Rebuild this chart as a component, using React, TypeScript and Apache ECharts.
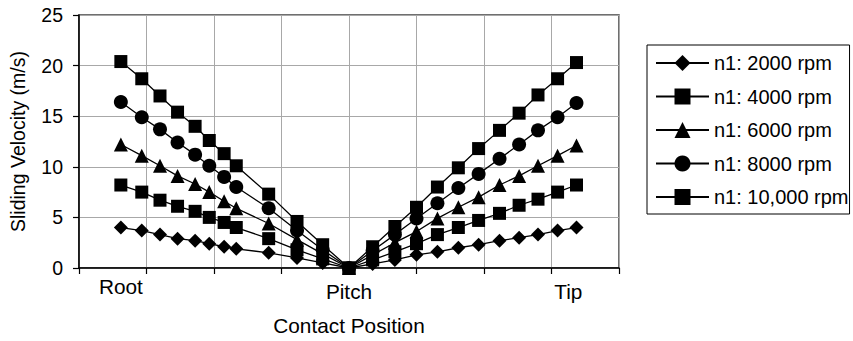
import React, { useEffect, useRef } from "react";
import * as echarts from "echarts";

const positions = [0.62, 0.93, 1.2, 1.46, 1.72, 1.93, 2.15, 2.33, 2.81, 3.23, 3.61, 4.0, 4.35, 4.68, 5.0, 5.31, 5.62, 5.92, 6.23, 6.52, 6.8, 7.09, 7.37];
const v2000 = [4.0, 3.7, 3.3, 2.9, 2.7, 2.4, 2.1, 1.9, 1.5, 1.0, 0.5, 0, 0.4, 0.8, 1.3, 1.6, 2.0, 2.3, 2.7, 3.0, 3.3, 3.7, 4.0];
const v4000 = [8.2, 7.5, 6.7, 6.1, 5.6, 5.0, 4.5, 4.0, 2.9, 1.8, 0.9, 0, 0.8, 1.6, 2.4, 3.3, 4.0, 4.7, 5.4, 6.2, 6.8, 7.5, 8.2];
const v6000 = [12.2, 11.1, 10.1, 9.1, 8.3, 7.5, 6.6, 5.9, 4.4, 2.8, 1.4, 0, 1.3, 2.5, 3.6, 4.9, 6.0, 7.0, 8.2, 9.1, 10.1, 11.1, 12.1];
const v8000 = [16.4, 14.9, 13.7, 12.4, 11.2, 10.1, 9.0, 8.0, 5.9, 3.7, 1.8, 0, 1.7, 3.3, 4.9, 6.4, 7.9, 9.3, 10.8, 12.2, 13.6, 14.9, 16.3];
const v10000 = [20.4, 18.7, 17.0, 15.4, 14.0, 12.6, 11.3, 10.1, 7.3, 4.6, 2.3, 0, 2.1, 4.1, 6.0, 8.0, 9.9, 11.8, 13.6, 15.3, 17.1, 18.7, 20.3];

const seriesNames = ["n1: 2000 rpm", "n1: 4000 rpm", "n1: 6000 rpm", "n1: 8000 rpm", "n1: 10,000 rpm"];
const seriesSymbols = ["diamond", "rect", "triangle", "circle", "rect"];
const seriesSizes = [14, 13, 14, 14, 13];
const seriesValues = [v2000, v4000, v6000, v8000, v10000];

const positionLabelValues = [0.62, 4.0, 7.25];
const positionLabels = ["Root", "Pitch", "Tip"];

const FONT = "Liberation Sans";
const FS = 19.5;
const FS_WIDE = 20.8;
const FS_LEGEND = 20;

export default function App() {
  const ref = useRef<HTMLDivElement>(null);
  useEffect(() => {
    document.body.style.margin = "0";
    const chart = echarts.init(ref.current!, undefined, { renderer: "svg" });
    chart.setOption({
      animation: false,
      backgroundColor: "#fff",
      textStyle: { fontFamily: FONT, color: "#000" },
      grid: {
        left: 79,
        right: 234,
        top: 15,
        bottom: 71,
        show: true,
        borderColor: "#404040",
        borderWidth: 1.5,
        backgroundColor: "transparent",
      },
      legend: {
        orient: "vertical",
        left: 647,
        top: 45,
        padding: [8, 1, 7, 8],
        itemGap: 13.5,
        itemWidth: 53,
        itemHeight: 20,
        borderColor: "#000",
        borderWidth: 1,
        backgroundColor: "#fff",
        textStyle: { fontFamily: FONT, fontSize: FS_LEGEND, color: "#000" },
        data: seriesNames,
      },
      xAxis: {
        type: "value",
        min: 0,
        max: 8,
        interval: 1,
        name: "Contact Position",
        nameLocation: "middle",
        nameGap: 47,
        nameTextStyle: { fontFamily: FONT, fontSize: FS_WIDE, color: "#000" },
        axisLine: { show: true, lineStyle: { color: "#000", width: 1.5 } },
        axisTick: { show: true, length: 6, lineStyle: { color: "#000", width: 1.2 } },
        splitLine: { show: true, lineStyle: { color: "#a8a8a8", width: 1 } },
        axisLabel: {
          customValues: positionLabelValues,
          margin: 8,
          fontFamily: FONT,
          fontSize: FS_WIDE,
          color: "#000",
          formatter: (val: number) => {
            const i = positionLabelValues.findIndex((p) => Math.abs(p - val) < 1e-6);
            if (i < 0) return "";
            return i === 0 ? "{r|" + positionLabels[i] + "}" : "{p|" + positionLabels[i] + "}";
          },
          rich: {
            r: { fontFamily: FONT, fontSize: FS_WIDE, color: "#000" },
            p: { fontFamily: FONT, fontSize: FS_WIDE, color: "#000", padding: [5, 0, 0, 0] },
          },
        },
      },
      yAxis: {
        type: "value",
        min: 0,
        max: 25,
        interval: 5,
        name: "Sliding Velocity (m/s)",
        nameLocation: "middle",
        nameGap: 51,
        nameTextStyle: { fontFamily: FONT, fontSize: FS, color: "#000" },
        axisLine: { show: true, lineStyle: { color: "#000", width: 1.5 } },
        axisTick: { show: true, length: 6, lineStyle: { color: "#000", width: 1.2 } },
        splitLine: { show: true, lineStyle: { color: "#a8a8a8", width: 1 } },
        axisLabel: {
          margin: 16,
          fontFamily: FONT,
          fontSize: FS,
          color: "#000",
          padding: [6, 0, 0, 0],
        },
      },
      series: seriesNames.map((name, si) => ({
        name,
        type: "line",
        data: positions.map((x, i) => [x, seriesValues[si][i]]),
        symbol: seriesSymbols[si],
        symbolSize: seriesSizes[si],
        showAllSymbol: true,
        lineStyle: { color: "#000", width: 1.3 },
        itemStyle: { color: "#000", borderWidth: 0 },
        emphasis: { disabled: true },
        z: 2 + si,
      })),
    });
    return () => chart.dispose();
  }, []);
  return <div ref={ref} style={{ position: "absolute", left: 0, top: 0, width: 853, height: 341 }} />;
}
